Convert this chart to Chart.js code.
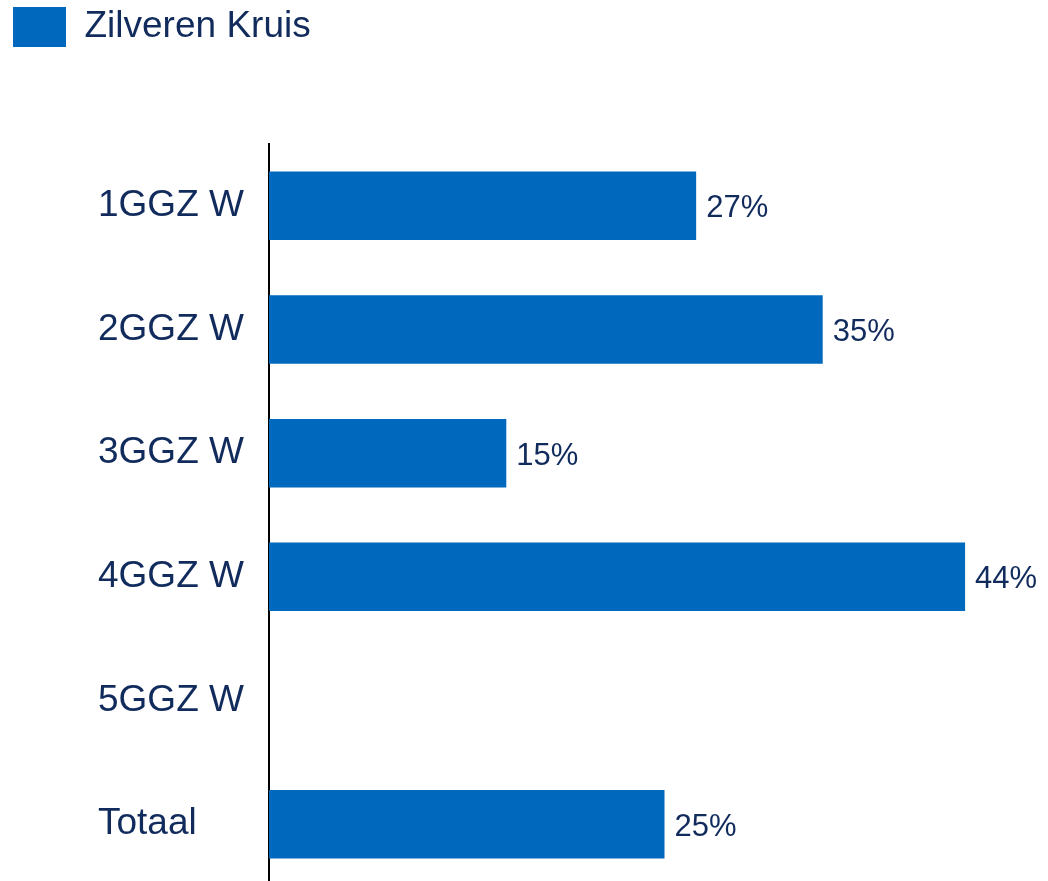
<!DOCTYPE html>
<html lang="nl">
<head>
    <meta charset="UTF-8">
    <title>Zilveren Kruis</title>
    <script src="https://cdn.jsdelivr.net/npm/chart.js@4.4.1/dist/chart.umd.min.js"></script>
    <style>
        html, body { margin: 0; padding: 0; background: #ffffff; overflow: hidden; }
        #wrap { width: 1048px; height: 886px; position: relative; }
    </style>
</head>
<body>
    <div id="wrap"><canvas id="chart"></canvas></div>

    <script>
        // Data
        const categories = ['1GGZ W', '2GGZ W', '3GGZ W', '4GGZ W', '5GGZ W', 'Totaal'];
        const seriesName = 'Zilveren Kruis';
        const values = [27, 35, 15, 44, null, 25];

        const barColor = '#0068BD';
        const textColor = '#112B5C';
        const font = "'Liberation Sans', Arial, sans-serif";

        // value labels right of each bar
        const valueLabels = {
            id: 'valueLabels',
            afterDatasetsDraw(chart) {
                const ctx = chart.ctx;
                const meta = chart.getDatasetMeta(0);
                ctx.save();
                ctx.font = '31px ' + font;
                ctx.fillStyle = textColor;
                ctx.textAlign = 'left';
                ctx.textBaseline = 'middle';
                meta.data.forEach((bar, i) => {
                    if (values[i] == null) return;
                    ctx.fillText(values[i] + '%', bar.x + 10, bar.y + 3);
                });
                ctx.restore();
            }
        };

        // fixed legend height so plot starts lower, category labels start at x=98
        const layoutTweaks = {
            id: 'layoutTweaks',
            beforeInit(chart) {
                const fit = chart.legend.fit;
                chart.legend.fit = function () {
                    fit.bind(chart.legend)();
                    this.height = 144;
                };
            },
            afterLayout(chart) {
                chart.scales.y.left = 98;
            }
        };

        new Chart(document.getElementById('chart'), {
            type: 'bar',
            data: {
                labels: categories,
                datasets: [{
                    label: seriesName,
                    data: values,
                    backgroundColor: barColor,
                    borderWidth: 0,
                    categoryPercentage: 1,
                    barPercentage: 0.554
                }]
            },
            options: {
                indexAxis: 'y',
                responsive: true,
                maintainAspectRatio: false,
                animation: false,
                layout: { padding: { left: 6, right: 75, top: 0, bottom: 0 } },
                plugins: {
                    legend: {
                        display: true,
                        position: 'top',
                        align: 'start',
                        labels: {
                            boxWidth: 53,
                            boxHeight: 40,
                            padding: 7,
                            color: textColor,
                            font: { size: 37, family: font }
                        }
                    },
                    tooltip: { enabled: false }
                },
                scales: {
                    x: {
                        min: 0,
                        max: 44.5,
                        display: false,
                        grid: { display: false }
                    },
                    y: {
                        grid: { display: false, drawTicks: false },
                        border: { display: true, color: '#000000', width: 2 },
                        ticks: {
                            crossAlign: 'far',
                            color: textColor,
                            padding: 0,
                            font: { size: 37, family: font }
                        },
                        afterFit(scale) {
                            scale.width = 263;
                            scale.paddingTop = 0;
                            scale.paddingBottom = 0;
                        }
                    }
                }
            },
            plugins: [valueLabels, layoutTweaks]
        });
    </script>
</body>
</html>
